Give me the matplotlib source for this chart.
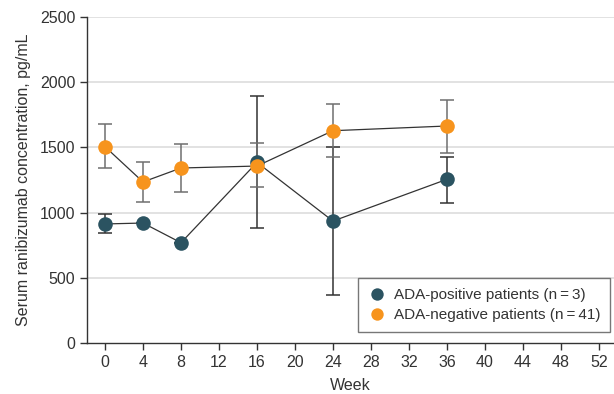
import matplotlib
matplotlib.use("Agg")
import matplotlib.pyplot as plt

plt.rcParams['font.family'] = ['Liberation Sans Narrow', 'Liberation Sans', 'DejaVu Sans']

# data
weeks = [0, 4, 8, 16, 24, 36]
pos_mean = [913, 920, 769, 1385, 935, 1255]
pos_lo = [841, 920, 769, 882, 368, 1076]
pos_hi = [987, 920, 769, 1897, 1500, 1424]
neg_mean = [1505, 1235, 1342, 1357, 1628, 1664]
neg_lo = [1342, 1081, 1158, 1194, 1424, 1460]
neg_hi = [1680, 1388, 1526, 1531, 1833, 1863]

x_ticks = list(range(0, 53, 4))
y_ticks = [0, 500, 1000, 1500, 2000, 2500]

dark = '#2b5361'
orange = '#f7941d'
txt = '#333333'

fig = plt.figure(figsize=(6.14, 3.94), dpi=100)
ax = fig.add_axes([0.1417, 0.1294, 0.8583, 0.8275])

ax.set_axisbelow(True)
for v in y_ticks[1:]:
    ax.axhline(v, color='#dddddd', lw=1.2, zorder=0)

pos_err = [[m - l for m, l in zip(pos_mean, pos_lo)], [h - m for m, h in zip(pos_mean, pos_hi)]]
neg_err = [[m - l for m, l in zip(neg_mean, neg_lo)], [h - m for m, h in zip(neg_mean, neg_hi)]]

# error bars (week 4 and 8 positive have none)
ax.errorbar(weeks, pos_mean, yerr=pos_err, fmt='none', ecolor='#333333', elinewidth=1.1, capsize=5, capthick=1.1, zorder=2)
ax.errorbar(weeks, neg_mean, yerr=neg_err, fmt='none', ecolor='#6f6f6f', elinewidth=1.1, capsize=5, capthick=1.1, zorder=2)

ax.plot(weeks, pos_mean, color='#333333', lw=0.9, zorder=3)
ax.plot(weeks, neg_mean, color='#333333', lw=0.9, zorder=3)
ax.plot(weeks, pos_mean, 'o', color=dark, ms=10.5, mec='none', zorder=4, label='ADA-positive patients (n\u2009=\u20093)')
ax.plot(weeks, neg_mean, 'o', color=orange, ms=10.5, mec='none', zorder=5, label='ADA-negative patients (n\u2009=\u200941)')

ax.set_xlim(-1.9, 53.6)
ax.set_ylim(0, 2500)
ax.set_xticks(x_ticks)
ax.set_yticks(y_ticks)
ax.tick_params(colors=txt, labelsize=11.5, length=5, width=1)

for s in ['top', 'right']:
    ax.spines[s].set_visible(False)
for s in ['left', 'bottom']:
    ax.spines[s].set_color('#333333')
    ax.spines[s].set_linewidth(1)

ax.set_xlabel('Week', fontsize=11.5, color=txt, labelpad=6)
ax.set_ylabel('Serum ranibizumab concentration, pg/mL', fontsize=11.5, color=txt, labelpad=6)

leg = ax.legend(loc='lower right', bbox_to_anchor=(0.9924, 0.034), borderaxespad=0, fontsize=11,
                frameon=True, fancybox=False, edgecolor='#555555', handletextpad=0.5,
                borderpad=0.65, labelspacing=0.4, handlelength=1.2, markerscale=0.85)
leg.get_frame().set_linewidth(1)
for t in leg.get_texts():
    t.set_color(txt)

fig.savefig('out.png', dpi=100)
